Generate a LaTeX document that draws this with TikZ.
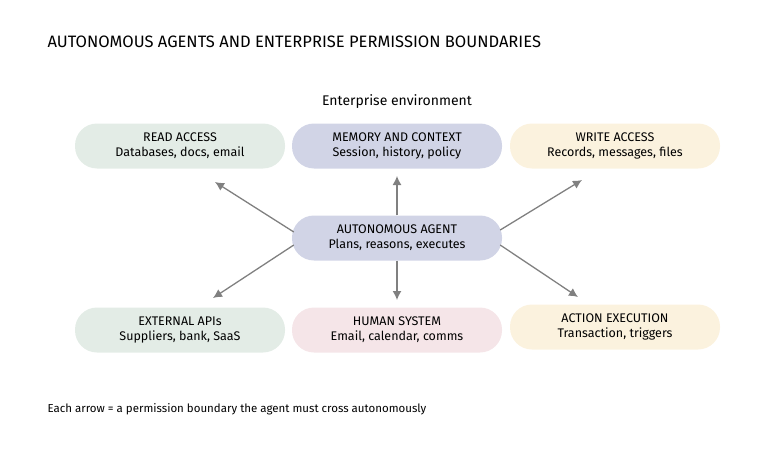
\documentclass[tikz,border=0pt]{standalone}
\usepackage{fontspec}
\setmainfont{Fira Sans}
\begin{document}
\begin{tikzpicture}[x=1pt,y=-1pt,
  pill/.style={rounded corners=22pt,minimum width=210pt,minimum height=45pt,align=center,inner sep=0pt,font=\fontsize{12.5}{15}\selectfont},
  arr/.style={draw=black!50,line width=1.3pt,-{Latex[length=9pt,width=9pt]}}]
\usetikzlibrary{arrows.meta}
\useasboundingbox (0,0) rectangle (768,460);
\definecolor{cg}{HTML}{E3ECE6}
\definecolor{cl}{HTML}{D1D4E6}
\definecolor{cy}{HTML}{FBF2DE}
\definecolor{cp}{HTML}{F5E5E8}
\node[anchor=west,font=\fontsize{16.5}{20}\selectfont] (title) at (44,42) {AUTONOMOUS AGENTS AND ENTERPRISE PERMISSION BOUNDARIES};
\node[font=\fontsize{14}{17}\selectfont] (env) at (397,102) {Enterprise environment};
\node[pill,fill=cg] (read) at (180,146) {READ ACCESS\\Databases, docs, email};
\node[pill,fill=cl] (mem) at (397,146) {MEMORY AND CONTEXT\\Session, history, policy};
\node[pill,fill=cy] (write) at (615,146) {WRITE ACCESS\\Records, messages, files};
\node[pill,fill=cl] (agent) at (397,238) {AUTONOMOUS AGENT\\Plans, reasons, executes};
\node[pill,fill=cg] (ext) at (180,330) {EXTERNAL APIs\\Suppliers, bank, SaaS};
\node[pill,fill=cp] (hum) at (397,330) {HUMAN SYSTEM\\Email, calendar, comms};
\node[pill,fill=cy] (act) at (615,327) {ACTION EXECUTION\\Transaction, triggers};
\coordinate (t1) at (215,182); \coordinate (t2) at (397,176); \coordinate (t3) at (582,180);
\coordinate (t4) at (213,298); \coordinate (t5) at (397,300); \coordinate (t6) at (578,297);
\draw[arr] (agent.west |- 0,232) ++(2,0) -- (t1);
\draw[arr] (agent.north) -- (t2);
\draw[arr] (agent.east |- 0,230) ++(-2,0) -- (t3);
\draw[arr] (agent.west |- 0,245) ++(2,0) -- (t4);
\draw[arr] (agent.south) -- (t5);
\draw[arr] (agent.east |- 0,245) ++(-2,0) -- (t6);
\node[anchor=west,font=\fontsize{11.5}{14}\selectfont] (foot) at (44,409) {Each arrow = a permission boundary the agent must cross autonomously};
\end{tikzpicture}
\end{document}
